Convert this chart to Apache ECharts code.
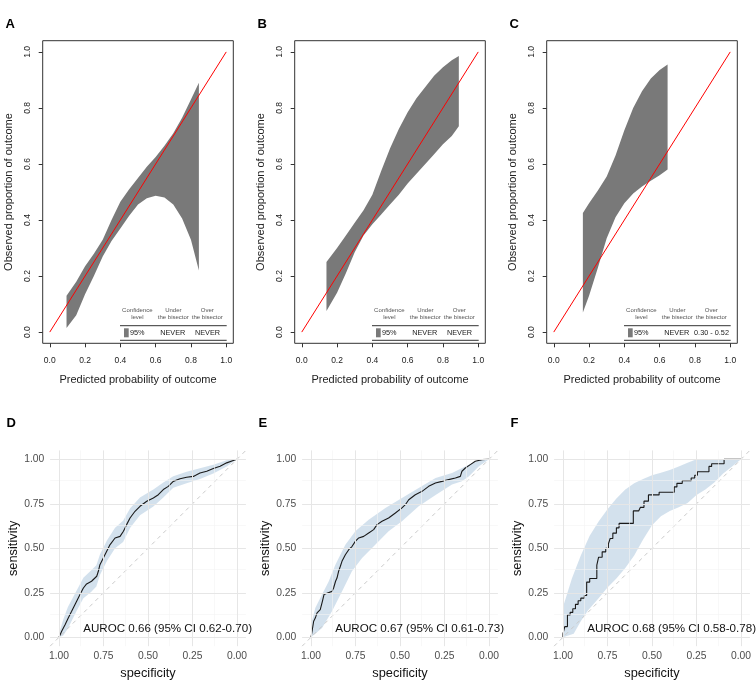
<!DOCTYPE html>
<html>
<head>
<meta charset="utf-8">
<script src="https://cdn.jsdelivr.net/npm/echarts@6/dist/echarts.min.js"></script>
<style>
html,body{margin:0;padding:0;background:#fff;}
#chart{width:756px;height:693px;}
</style>
</head>
<body>
<div id="chart"></div>
<script>
// ---------- DATA ----------
// Calibration belts (panels A-C): predicted probability, upper and lower belt bounds
const calA_x     = [0.095,0.15,0.2,0.25,0.3,0.35,0.4,0.45,0.5,0.55,0.6,0.65,0.7,0.75,0.8,0.845];
const calA_upper = [0.13,0.18,0.235,0.28,0.33,0.40,0.465,0.51,0.55,0.59,0.625,0.665,0.71,0.765,0.83,0.89];
const calA_lower = [0.015,0.06,0.135,0.20,0.27,0.325,0.37,0.415,0.455,0.478,0.487,0.48,0.455,0.405,0.33,0.22];

const calB_x     = [0.14,0.2,0.25,0.3,0.35,0.4,0.45,0.5,0.55,0.6,0.65,0.7,0.75,0.8,0.85,0.89];
const calB_upper = [0.25,0.30,0.345,0.39,0.435,0.49,0.575,0.655,0.725,0.785,0.835,0.875,0.915,0.945,0.97,0.985];
const calB_lower = [0.075,0.14,0.21,0.285,0.345,0.385,0.42,0.455,0.49,0.53,0.565,0.60,0.635,0.67,0.70,0.735];

const calC_x     = [0.165,0.2,0.25,0.3,0.35,0.4,0.45,0.5,0.55,0.6,0.645];
const calC_upper = [0.425,0.46,0.505,0.555,0.63,0.72,0.80,0.86,0.905,0.935,0.955];
const calC_lower = [0.07,0.13,0.23,0.335,0.41,0.46,0.495,0.52,0.54,0.56,0.58];

const bisector = [[0,0],[1,1]];
const calTicks = [0,0.2,0.4,0.6,0.8,1.0];
const calOverText = ['NEVER','NEVER','0.30 - 0.52'];
const calUnderText = ['NEVER','NEVER','NEVER'];

// ROC curves (panels D-F): [specificity, sensitivity]
const rocD = [[1,0],[0.985,0.034],[0.966,0.071],[0.948,0.109],[0.929,0.146],[0.91,0.184],[0.882,0.24],[0.863,0.277],[0.845,0.30],[0.817,0.315],[0.788,0.343],[0.779,0.371],[0.77,0.408],[0.751,0.446],[0.732,0.483],[0.713,0.521],[0.685,0.558],[0.657,0.567],[0.638,0.596],[0.62,0.633],[0.601,0.67],[0.573,0.708],[0.545,0.736],[0.507,0.764],[0.47,0.783],[0.442,0.801],[0.414,0.83],[0.386,0.848],[0.358,0.876],[0.32,0.891],[0.283,0.899],[0.245,0.904],[0.208,0.923],[0.17,0.933],[0.133,0.948],[0.095,0.961],[0.058,0.98],[0.021,0.993],[0,1]];
const rocD_upper = [[1,0.02],[0.976,0.10],[0.95,0.17],[0.90,0.265],[0.863,0.335],[0.82,0.375],[0.79,0.405],[0.77,0.465],[0.73,0.545],[0.685,0.615],[0.64,0.655],[0.60,0.725],[0.545,0.785],[0.47,0.83],[0.414,0.87],[0.358,0.905],[0.283,0.93],[0.208,0.95],[0.133,0.97],[0.058,0.995],[0,1]];
const rocD_lower = [[1,0],[0.976,0.01],[0.95,0.05],[0.90,0.15],[0.863,0.22],[0.82,0.255],[0.79,0.285],[0.77,0.35],[0.73,0.43],[0.685,0.50],[0.64,0.535],[0.60,0.615],[0.545,0.685],[0.47,0.735],[0.414,0.785],[0.358,0.84],[0.283,0.865],[0.208,0.89],[0.133,0.92],[0.058,0.96],[0,1]];

const rocE = [[1,0],[0.994,0.034],[0.985,0.09],[0.976,0.108],[0.966,0.137],[0.957,0.146],[0.948,0.155],[0.936,0.202],[0.927,0.24],[0.907,0.249],[0.882,0.258],[0.873,0.277],[0.862,0.315],[0.854,0.333],[0.845,0.37],[0.835,0.399],[0.826,0.427],[0.807,0.464],[0.788,0.492],[0.77,0.51],[0.751,0.539],[0.732,0.558],[0.704,0.567],[0.676,0.586],[0.648,0.605],[0.629,0.633],[0.601,0.652],[0.564,0.67],[0.526,0.698],[0.489,0.727],[0.47,0.745],[0.451,0.773],[0.414,0.801],[0.376,0.82],[0.339,0.848],[0.301,0.867],[0.264,0.876],[0.227,0.886],[0.189,0.895],[0.161,0.904],[0.152,0.933],[0.133,0.951],[0.105,0.97],[0.077,0.989],[0.039,0.998],[0,1]];
const rocE_upper = [[1,0.07],[0.976,0.165],[0.938,0.24],[0.90,0.315],[0.863,0.408],[0.807,0.52],[0.751,0.596],[0.676,0.661],[0.582,0.727],[0.489,0.783],[0.395,0.839],[0.30,0.895],[0.208,0.923],[0.114,0.97],[0.039,1],[0,1]];
const rocE_lower = [[1,0],[0.938,0.052],[0.882,0.146],[0.826,0.258],[0.77,0.371],[0.713,0.446],[0.639,0.52],[0.564,0.596],[0.489,0.652],[0.395,0.736],[0.30,0.80],[0.208,0.858],[0.152,0.876],[0.114,0.904],[0.058,0.96],[0,1]];

const rocF = [[1,0],[1,0.02],[0.99,0.02],[0.99,0.06],[0.975,0.06],[0.975,0.125],[0.96,0.125],[0.96,0.14],[0.945,0.14],[0.945,0.16],[0.93,0.16],[0.93,0.185],[0.915,0.185],[0.915,0.205],[0.90,0.205],[0.90,0.22],[0.88,0.22],[0.88,0.235],[0.867,0.235],[0.867,0.31],[0.85,0.31],[0.85,0.33],[0.81,0.33],[0.81,0.405],[0.80,0.405],[0.80,0.45],[0.78,0.45],[0.78,0.48],[0.76,0.48],[0.76,0.50],[0.745,0.50],[0.745,0.525],[0.735,0.525],[0.735,0.555],[0.72,0.555],[0.72,0.585],[0.70,0.585],[0.70,0.615],[0.685,0.615],[0.685,0.64],[0.605,0.64],[0.605,0.71],[0.575,0.71],[0.575,0.72],[0.565,0.72],[0.565,0.73],[0.545,0.73],[0.545,0.765],[0.52,0.765],[0.52,0.80],[0.46,0.80],[0.46,0.815],[0.375,0.815],[0.375,0.845],[0.36,0.845],[0.36,0.865],[0.33,0.865],[0.33,0.88],[0.28,0.88],[0.28,0.895],[0.26,0.895],[0.26,0.91],[0.245,0.91],[0.245,0.93],[0.18,0.93],[0.18,0.96],[0.165,0.96],[0.165,0.975],[0.095,0.975],[0.095,1.0],[0,1]];
const rocF_upper = [[1,0.17],[0.975,0.25],[0.95,0.33],[0.90,0.46],[0.85,0.57],[0.80,0.65],[0.75,0.72],[0.70,0.78],[0.65,0.83],[0.60,0.865],[0.55,0.89],[0.50,0.91],[0.45,0.925],[0.40,0.94],[0.35,0.96],[0.30,0.98],[0.25,1.0],[0,1.0]];
const rocF_lower = [[1,0],[0.94,0.02],[0.90,0.09],[0.86,0.15],[0.80,0.22],[0.75,0.28],[0.70,0.33],[0.65,0.39],[0.60,0.46],[0.55,0.55],[0.50,0.63],[0.45,0.68],[0.40,0.71],[0.35,0.73],[0.30,0.755],[0.25,0.80],[0.20,0.83],[0.15,0.87],[0.10,0.92],[0.05,0.96],[0,1]];

const rocChance = [[1.05,-0.05],[-0.05,1.05]];
const rocTicks = [0,0.25,0.5,0.75,1.0];
const rocMinor = [0.125,0.375,0.625,0.875];
const aurocText = ['AUROC 0.66 (95% CI 0.62-0.70)','AUROC 0.67 (95% CI 0.61-0.73)','AUROC 0.68 (95% CI 0.58-0.78)'];
const panelLetters = ['A','B','C','D','E','F'];

// ---------- LAYOUT ----------
const FONT = '"Liberation Sans", Arial, Helvetica, sans-serif';
const colX = [0, 252, 504];
const topGrid = {left:42.7, top:40.7, width:190.6, height:302.6};
const botGrid = {left:50.1, top:450.4, width:195.8, height:195.8};
const aurocAnchor = [0.864, 0.047];

const cal = [
  {x:calA_x, up:calA_upper, lo:calA_lower},
  {x:calB_x, up:calB_upper, lo:calB_lower},
  {x:calC_x, up:calC_upper, lo:calC_lower}
];
const roc = [
  {c:rocD, up:rocD_upper, lo:rocD_lower},
  {c:rocE, up:rocE_upper, lo:rocE_lower},
  {c:rocF, up:rocF_upper, lo:rocF_lower}
];

const grids = [], xAxes = [], yAxes = [], series = [], graphics = [];

function bandRender(upPts, loPts, fill) {
  return function (params, api) {
    if (params.dataIndex !== 0) return null;
    const pts = [];
    upPts.forEach(p => pts.push(api.coord(p)));
    for (let k = loPts.length - 1; k >= 0; k--) pts.push(api.coord(loPts[k]));
    return {type:'polygon', shape:{points:pts}, style:{fill:fill}};
  };
}

// top calibration panels
for (let i = 0; i < 3; i++) {
  grids.push({left:colX[i]+topGrid.left, top:topGrid.top, width:topGrid.width, height:topGrid.height,
    show:true, borderColor:'#333', borderWidth:1, backgroundColor:'transparent', outerBoundsMode:'none', containLabel:false});
  xAxes.push({type:'value', gridIndex:i, min:-0.04, max:1.04,
    axisLine:{show:false, onZero:false},
    axisTick:{show:true, inside:false, length:4, customValues:calTicks, lineStyle:{color:'#333', width:1}},
    axisLabel:{customValues:calTicks, formatter:v=>v.toFixed(1), fontSize:8.5, color:'#222', margin:13, fontFamily:FONT},
    splitLine:{show:false},
    name:'Predicted probability of outcome', nameLocation:'middle', nameGap:31,
    nameTextStyle:{fontSize:11, color:'#222', fontFamily:FONT}});
  yAxes.push({type:'value', gridIndex:i, min:-0.04, max:1.04,
    axisLine:{show:false, onZero:false},
    axisTick:{show:true, inside:false, length:4, customValues:calTicks, lineStyle:{color:'#333', width:1}},
    axisLabel:{customValues:calTicks, formatter:v=>v.toFixed(1), fontSize:8.5, color:'#222', margin:11, rotate:90, fontFamily:FONT},
    splitLine:{show:false},
    name:'Observed proportion of outcome', nameLocation:'middle', nameGap:28, nameRotate:90,
    nameTextStyle:{fontSize:11, color:'#222', fontFamily:FONT}});
  const d = cal[i];
  const upPts = d.x.map((x,k)=>[x, d.up[k]]);
  const loPts = d.x.map((x,k)=>[x, d.lo[k]]);
  series.push({type:'custom', xAxisIndex:i, yAxisIndex:i, data:upPts, encode:{x:0, y:1},
    renderItem:bandRender(upPts, loPts, '#797979'), z:2, silent:true});
  series.push({type:'line', xAxisIndex:i, yAxisIndex:i, data:bisector, showSymbol:false, symbol:'none',
    lineStyle:{color:'#ff0000', width:1}, z:3, silent:true});

  // belt table (text annotation inside plot)
  const ox = colX[i];
  const hdr = [['Confidence\nlevel',137.3],['Under\nthe bisector',173.3],['Over\nthe bisector',207.3]];
  hdr.forEach(h => graphics.push({type:'text', x:ox+h[1], y:313.8, silent:true,
    style:{text:h[0], fontSize:6, lineHeight:7.3, fontFamily:FONT, fill:'#555', align:'center', verticalAlign:'middle'}}));
  graphics.push({type:'line', silent:true, shape:{x1:ox+120, y1:325.7, x2:ox+226.7, y2:325.7}, style:{stroke:'#333', lineWidth:1}});
  graphics.push({type:'line', silent:true, shape:{x1:ox+120, y1:340.3, x2:ox+226.7, y2:340.3}, style:{stroke:'#333', lineWidth:1}});
  graphics.push({type:'rect', silent:true, shape:{x:ox+124, y:328.3, width:4.7, height:9}, style:{fill:'#797979'}});
  graphics.push({type:'text', x:ox+130, y:333.3, silent:true, style:{text:'95%', fontSize:7.3, fontFamily:FONT, fill:'#222', align:'left', verticalAlign:'middle'}});
  graphics.push({type:'text', x:ox+172.7, y:333.3, silent:true, style:{text:calUnderText[i], fontSize:7.3, fontFamily:FONT, fill:'#222', align:'center', verticalAlign:'middle'}});
  graphics.push({type:'text', x:ox+207.5, y:333.3, silent:true, style:{text:calOverText[i], fontSize:7.3, fontFamily:FONT, fill:'#222', align:'center', verticalAlign:'middle'}});
  graphics.push({type:'text', x:ox+5.5, y:24.7, silent:true, style:{text:panelLetters[i], fontSize:13, fontWeight:'bold', fontFamily:FONT, fill:'#000', align:'left', verticalAlign:'middle'}});
}

// bottom ROC panels
for (let j = 0; j < 3; j++) {
  const gi = 3 + j;
  grids.push({left:colX[j]+botGrid.left, top:botGrid.top, width:botGrid.width, height:botGrid.height,
    show:false, outerBoundsMode:'none', containLabel:false});
  xAxes.push({type:'value', gridIndex:gi, min:-0.05, max:1.05, inverse:true,
    axisLine:{show:false, onZero:false}, axisTick:{show:false},
    axisLabel:{customValues:rocTicks, formatter:v=>v.toFixed(2), fontSize:10.3, color:'#4d4d4d', margin:5, fontFamily:FONT},
    splitLine:{show:false},
    name:'specificity', nameLocation:'middle', nameGap:21,
    nameTextStyle:{fontSize:12.8, color:'#111', fontFamily:FONT}});
  yAxes.push({type:'value', gridIndex:gi, min:-0.05, max:1.05,
    axisLine:{show:false, onZero:false}, axisTick:{show:false},
    axisLabel:{customValues:rocTicks, formatter:v=>v.toFixed(2), fontSize:10.3, color:'#4d4d4d', margin:5.8, fontFamily:FONT},
    splitLine:{show:false},
    name:'sensitivity', nameLocation:'middle', nameGap:28, nameRotate:90,
    nameTextStyle:{fontSize:12.8, color:'#111', fontFamily:FONT}});

  const ml = [];
  rocMinor.forEach(v => { ml.push({xAxis:v, lineStyle:{color:'#f3f3f3', width:0.6}}); ml.push({yAxis:v, lineStyle:{color:'#f3f3f3', width:0.6}}); });
  rocTicks.forEach(v => { ml.push({xAxis:v, lineStyle:{color:'#e6e6e6', width:1}}); ml.push({yAxis:v, lineStyle:{color:'#e6e6e6', width:1}}); });
  series.push({type:'line', xAxisIndex:gi, yAxisIndex:gi, data:[[0.5,0.5]], showSymbol:false, symbol:'none',
    lineStyle:{width:0}, z:0, silent:true,
    markLine:{silent:true, symbol:['none','none'], label:{show:false}, animation:false, lineStyle:{type:'solid'}, data:ml}});

  const r = roc[j];
  series.push({type:'custom', xAxisIndex:gi, yAxisIndex:gi, data:r.up, encode:{x:0, y:1},
    renderItem:bandRender(r.up, r.lo, 'rgba(70,130,180,0.24)'), z:1, silent:true});
  series.push({type:'line', xAxisIndex:gi, yAxisIndex:gi, data:rocChance, showSymbol:false, symbol:'none',
    lineStyle:{color:'#c9c9c9', width:1, type:[4,4]}, z:2, silent:true});
  series.push({type:'line', xAxisIndex:gi, yAxisIndex:gi, data:r.c, showSymbol:false, symbol:'none',
    lineStyle:{color:'#1a1a1a', width:1.1}, z:3, silent:true});
  graphics.push({type:'text', x:colX[j]+6.5, y:423.8, silent:true, style:{text:panelLetters[gi], fontSize:13, fontWeight:'bold', fontFamily:FONT, fill:'#000', align:'left', verticalAlign:'middle'}});
}

const chart = echarts.init(document.getElementById('chart'), null, {renderer:'canvas'});
chart.setOption({
  animation:false,
  backgroundColor:'#fff',
  textStyle:{fontFamily:FONT},
  grid:grids, xAxis:xAxes, yAxis:yAxes, series:series, graphic:graphics
});

// AUROC annotations placed through each ROC panel's own scales
for (let j = 0; j < 3; j++) {
  const p = chart.convertToPixel({gridIndex:3+j}, aurocAnchor);
  graphics.push({type:'text', x:p[0], y:p[1], silent:true, z:10,
    style:{text:aurocText[j], fontSize:11.6, fontFamily:FONT, fill:'#111', align:'left', verticalAlign:'middle'}});
}
chart.setOption({graphic:graphics});
</script>
</body>
</html>
